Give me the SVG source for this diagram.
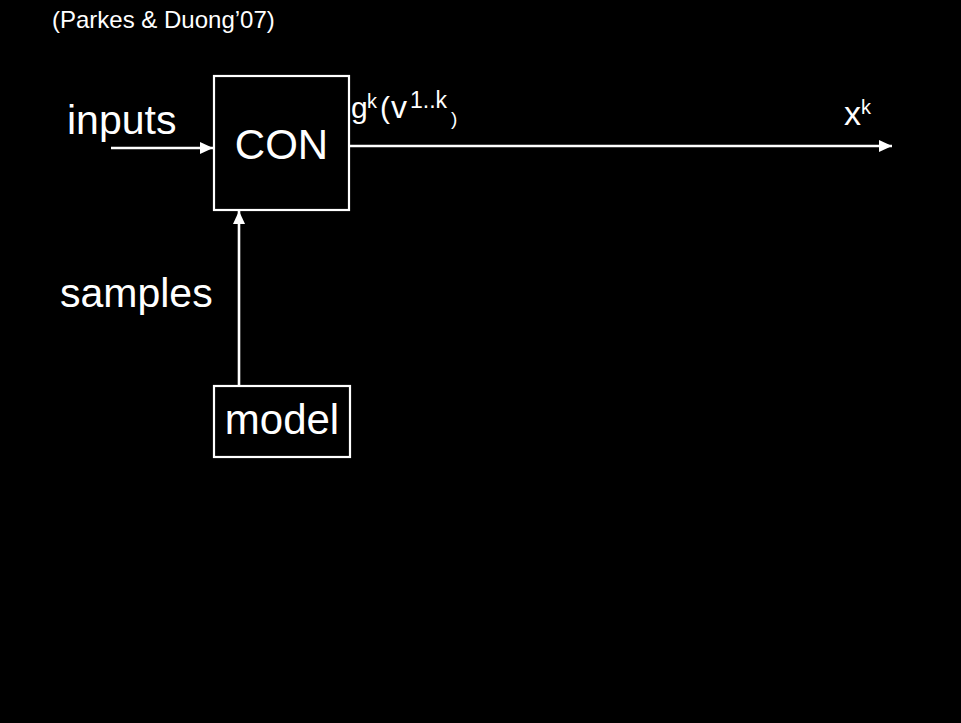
<svg xmlns="http://www.w3.org/2000/svg" width="961" height="723" viewBox="0 0 961 723">
  <style>
    .lbl { font-family: "Liberation Sans", Arial, sans-serif; fill: #ffffff; }
    .box { fill: #000000; stroke: #ffffff; stroke-width: 2.2; }
    .wire { stroke: #ffffff; stroke-width: 2.6; fill: none; }
  </style>
  <defs>
    <marker id="arrow" viewBox="0 0 13 12" refX="13" refY="6" markerWidth="13" markerHeight="12" markerUnits="userSpaceOnUse" orient="auto">
      <path d="M0,0 L13,6 L0,12 z" fill="#ffffff"/>
    </marker>
  </defs>

  <rect x="0" y="0" width="961" height="723" fill="#000000"/>

  <text class="lbl" x="52" y="28" font-size="24">(Parkes &amp; Duong’07)</text>

  <g id="connectors">
    <line class="wire" x1="111" y1="148" x2="213" y2="148" marker-end="url(#arrow)"/>
    <line class="wire" x1="350" y1="146" x2="892" y2="146" marker-end="url(#arrow)"/>
    <line class="wire" x1="239" y1="386" x2="239" y2="211" marker-end="url(#arrow)"/>
  </g>

  <g id="con">
    <rect class="box" x="214" y="76" width="135" height="134"/>
    <text class="lbl" x="281.5" y="159" font-size="42" text-anchor="middle">CON</text>
  </g>

  <g id="model">
    <rect class="box" x="214" y="386" width="136" height="71"/>
    <text class="lbl" x="282" y="434" font-size="42" text-anchor="middle">model</text>
  </g>

  <text class="lbl" x="67" y="134" font-size="41">inputs</text>
  <text class="lbl" x="60" y="307" font-size="41">samples</text>

  <!-- output label: g^k(v^{1..k}) -->
  <text class="lbl" font-size="30">
    <tspan x="351" y="118">g</tspan>
    <tspan x="367" y="108" font-size="20">k</tspan>
    <tspan x="380" y="118">(</tspan>
    <tspan x="391" y="118" font-size="32">v</tspan>
    <tspan x="410" y="108" font-size="23">1..k</tspan>
    <tspan x="451" y="125" font-size="19">)</tspan>
  </text>

  <text class="lbl" x="844" y="125" font-size="34">x<tspan font-size="20" dy="-11">k</tspan></text>
</svg>
